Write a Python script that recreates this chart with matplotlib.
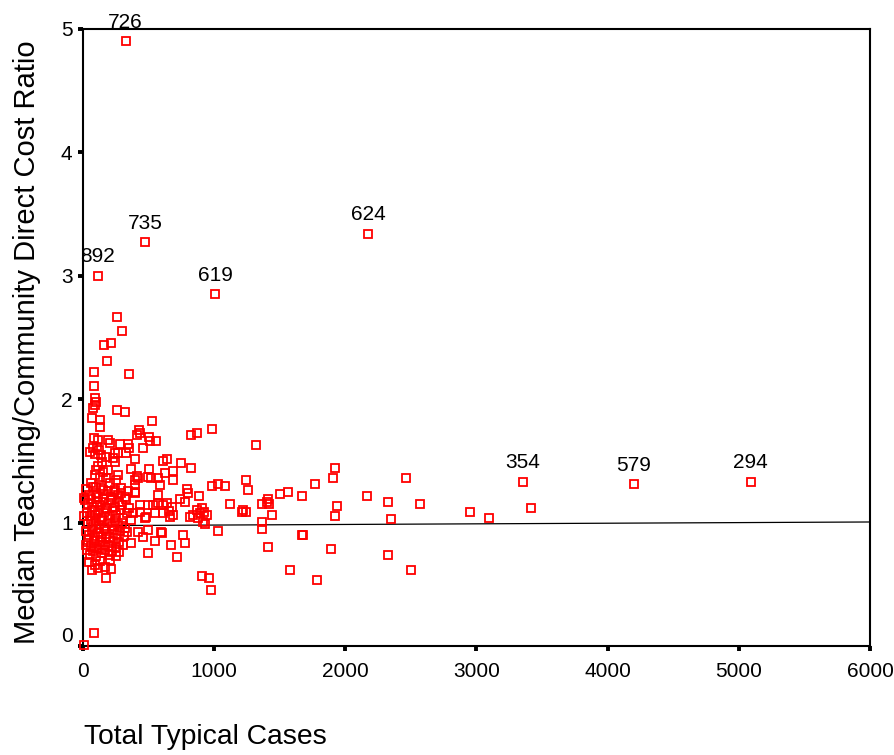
#!/usr/bin/env python3
"""Teaching vs community direct cost ratio against hospital case volume."""
import matplotlib.pyplot as plt

plt.rcParams['font.family'] = ['Liberation Sans', 'DejaVu Sans']

RED, BLACK = '#ff0000', '#000000'

# outlying hospitals, identified by case id
ids = ['726', '735', '892', '619', '624', '354', '579', '294']
id_cases = [325, 475, 112, 1006, 2172, 3355, 4197, 5089]
id_ratio = [4.90, 3.27, 3.00, 2.85, 3.34, 1.33, 1.31, 1.33]

# remaining hospitals: total typical cases / median cost ratio
cases = [
    # larger hospitals
    1667, 1925, 1908, 1770, 2164, 2329, 2464, 2573, 1938, 1923, 2345, 2949,
    3099, 3416, 1669, 1677, 1890, 2329, 2497, 1785,
    985, 866, 821, 1318, 638, 607, 744, 821, 688, 622, 688, 1242, 1257, 985,
    1031, 1080, 795, 802, 881, 739, 775, 638, 678, 658, 688, 663, 1120, 1222,
    1242, 1209, 1362, 1400, 1420, 1438, 1407, 1501, 1560,
    904, 925, 891, 866, 841, 815, 917, 930, 879, 943, 1362, 1367, 1031, 600,
    760, 775, 668, 714, 1407, 1575, 909, 960, 973,
    # upper left
    261, 297, 160, 216, 185, 353, 86, 84, 94, 97, 94, 80, 261, 322, 66, 130,
    130, 523, 429, 409, 434, 505, 510, 554, 282, 345, 353, 328, 269, 244, 193,
    206, 84, 117, 104, 53, 91, 394, 244, 505, 516, 363, 409, 421, 396, 396,
    76, 120, 135, 457, 229, 178, 145, 114, 101, 152, 191, 89, 127, 178, 495,
    572, 267, 254, 203, 394, 584, 63, 101, 152, 241, 292,
    398, 571, 432, 495, 533, 571, 610, 432, 546, 610, 470, 482, 381, 368, 495,
    419, 597, 546, 457, 368, 495, 69, 114, 216, 178, 84, 5,
    # small hospitals, dense block
    22, 48, 75, 98, 118, 140, 163, 188, 212, 236, 265, 290, 318, 342,
    18, 40, 62, 85, 106, 128, 150, 172, 196, 220, 245, 272, 298, 326, 350,
    28, 52, 70, 92, 115, 137, 158, 182, 205, 230, 255, 280, 306, 334,
    35, 58, 80, 102, 125, 148, 170, 193, 218, 242, 268, 295, 320,
    25, 47, 68, 90, 112, 135, 160, 185, 208, 233, 258, 285, 312, 338,
    20, 38, 60, 83, 108, 130, 155, 178, 200, 226, 250, 276, 302,
    30, 55, 78, 100, 122, 145, 168, 195, 222, 248, 275,
    45, 88, 130, 165, 205, 10, 8,
]
ratio = [
    1.215, 1.445, 1.364, 1.313, 1.216, 1.164, 1.364, 1.148, 1.132, 1.051,
    1.032, 1.083, 1.035, 1.116, 0.90, 0.90, 0.783, 0.735, 0.618, 0.535,
    1.761, 1.729, 1.712, 1.629, 1.513, 1.502, 1.480, 1.445, 1.418, 1.399,
    1.345, 1.348, 1.264, 1.297, 1.313, 1.297, 1.275, 1.237, 1.213, 1.191,
    1.169, 1.156, 1.124, 1.094, 1.062, 1.048, 1.151, 1.102, 1.088, 1.088,
    1.151, 1.169, 1.151, 1.062, 1.189, 1.232, 1.248,
    1.116, 1.088, 1.075, 1.102, 1.062, 1.048, 1.007, 0.988, 1.035, 1.062,
    1.007, 0.948, 0.934, 0.918, 0.90, 0.832, 0.818, 0.719, 0.802, 0.618,
    0.570, 0.553, 0.454,
    2.669, 2.555, 2.44, 2.453, 2.307, 2.207, 2.223, 2.107, 2.007, 1.98, 1.95,
    1.925, 1.912, 1.894, 1.845, 1.831, 1.777, 1.826, 1.750, 1.710, 1.724,
    1.696, 1.664, 1.664, 1.637, 1.637, 1.602, 1.562, 1.567, 1.562, 1.669,
    1.643, 1.683, 1.669, 1.615, 1.575, 1.556, 1.513, 1.494, 1.432, 1.359,
    1.432, 1.378, 1.359, 1.345, 1.250,
    1.602, 1.588, 1.548, 1.602, 1.521, 1.534, 1.494, 1.461, 1.426, 1.413,
    1.426, 1.386, 1.372, 1.359, 1.372, 1.364, 1.386, 1.345, 1.318, 1.305,
    1.305, 1.318, 1.291, 1.264, 1.264, 1.278,
    1.242, 1.224, 1.143, 1.143, 1.143, 1.156, 1.143, 1.088, 1.075, 1.075,
    1.035, 1.048, 1.075, 1.021, 0.940, 0.926, 0.926, 0.853, 0.886, 0.832,
    0.756, 0.616, 0.630, 0.622, 0.549, 0.108, 0.008,
    1.27, 1.22, 1.29, 1.24, 1.21, 1.28, 1.23, 1.26, 1.21, 1.25, 1.22, 1.24,
    1.21, 1.26,
    1.18, 1.15, 1.19, 1.13, 1.17, 1.14, 1.19, 1.12, 1.16, 1.18, 1.13, 1.17,
    1.14, 1.19, 1.12,
    1.08, 1.05, 1.10, 1.06, 1.09, 1.04, 1.08, 1.11, 1.05, 1.09, 1.06, 1.10,
    1.04, 1.08,
    0.99, 1.02, 0.97, 1.01, 0.98, 1.02, 0.96, 1.00, 0.97, 1.01, 0.98, 1.00,
    0.96,
    0.93, 0.90, 0.94, 0.89, 0.92, 0.88, 0.95, 0.91, 0.88, 0.94, 0.90, 0.93,
    0.89, 0.92,
    0.82, 0.86, 0.81, 0.85, 0.80, 0.84, 0.82, 0.87, 0.81, 0.85, 0.80, 0.84,
    0.82,
    0.78, 0.74, 0.77, 0.73, 0.79, 0.75, 0.78, 0.74, 0.77, 0.73, 0.76,
    0.68, 0.66, 0.69, 0.64, 0.70, 1.20, 1.05,
]

# fitted line across the case range
fit_x = [0, 6000]
fit_y = [0.975, 1.005]

fig = plt.figure(figsize=(8.95, 7.55), dpi=100)
ax = fig.add_axes([83 / 895, 1 - 646 / 755, 787 / 895, 617 / 755])

ax.plot(fit_x, fit_y, color=BLACK, lw=0.9, zorder=2)
mk = dict(ls='none', marker='s', ms=6.2, mfc='none', mec=RED, mew=1.3,
          clip_on=False, zorder=3)
ax.plot(cases, ratio, **mk)
ax.plot(id_cases, id_ratio, **mk)
for lbl, x, y in zip(ids, id_cases, id_ratio):
    ax.annotate(lbl, (x, y), xytext=(0, 7), textcoords='offset points',
                ha='center', va='bottom', fontsize=15)

ax.set_xlim(0, 6000)
ax.set_ylim(0, 5)
ax.set_xticks(range(0, 7000, 1000))
ax.set_yticks(range(0, 6))
for sp in ax.spines.values():
    sp.set_linewidth(1.5)
ax.tick_params(axis='y', direction='out', length=3.5, width=2.8, pad=4,
               labelsize=15)
ax.tick_params(axis='x', direction='out', length=3.5, width=2.8, pad=8,
               labelsize=15)
ax.get_yticklabels()[0].set_va('bottom')

fig.text(27 / 895, 1 - 342 / 755, 'Median Teaching/Community Direct Cost Ratio',
         rotation=90, ha='center', va='center', fontsize=21)
fig.text(84 / 895, 1 - 744 / 755, 'Total Typical Cases',
         ha='left', va='baseline', fontsize=20.3)

fig.savefig('out.png', dpi=100, facecolor='white')
